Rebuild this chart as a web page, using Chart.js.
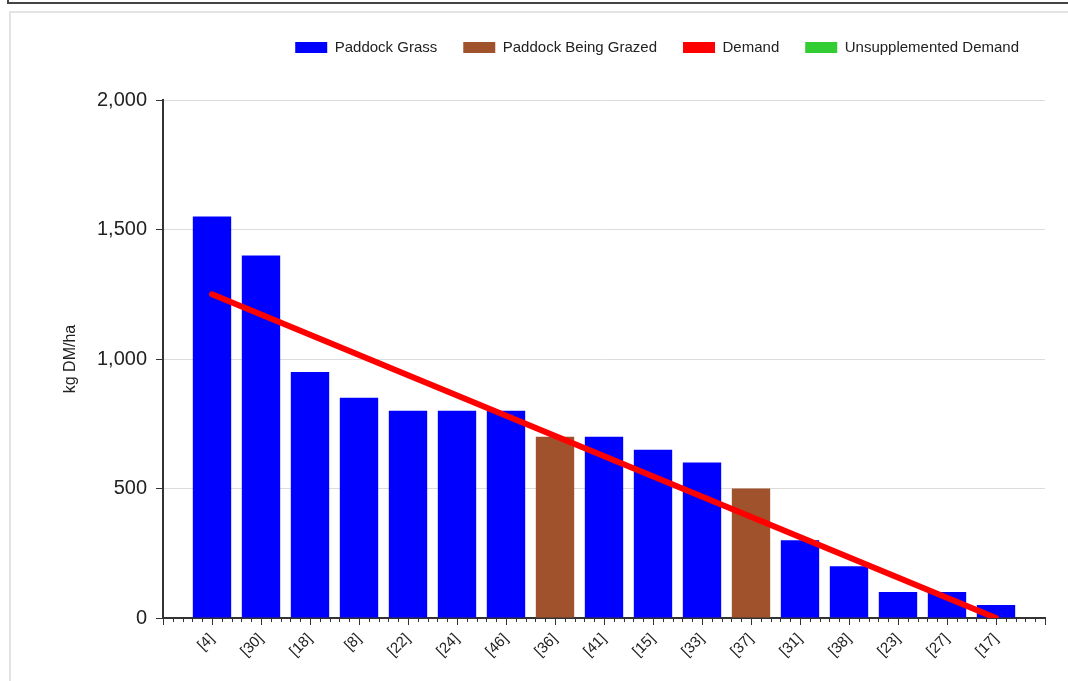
<!DOCTYPE html>
<html>
<head>
<meta charset="utf-8">
<script src="https://cdn.jsdelivr.net/npm/chart.js@4/dist/chart.umd.min.js"></script>
<style>
    body { margin: 0; background: #fff; }
    #outer { position: absolute; left: 7px; top: -9px; width: 1070px; height: 11px; border-left: 2px solid #444; border-bottom: 2px solid #444; }
    #frame { position: absolute; left: 9px; top: 11px; width: 1080px; height: 680px; border: 2px solid #e3e3e3; }
    #wrap { position: absolute; left: 0; top: 0; width: 1068px; height: 681px; }
</style>
</head>
<body>
<div id="outer"></div>
<div id="frame"></div>
<div id="wrap"><canvas id="chart"></canvas></div>
<script>
var paddocks = ['[4]', '[30]', '[18]', '[8]', '[22]', '[24]', '[46]', '[36]', '[41]', '[15]', '[33]', '[37]', '[31]', '[38]', '[23]', '[27]', '[17]'];
var grassValues = [1550, 1400, 950, 850, 800, 800, 800, null, 700, 650, 600, null, 300, 200, 100, 100, 50];
var grazedValues = [null, null, null, null, null, null, null, 700, null, null, null, 500, null, null, null, null, null];
var demandValues = [1250, null, null, null, null, null, null, null, null, null, null, null, null, null, null, null, 0];
var unsupplementedValues = [];
var yTicks = [0, 500, 1000, 1500, 2000];

var fontName = '"Liberation Sans", Arial, sans-serif';

function toPoints(values) {
    var points = [];
    values.forEach(function (v, i) {
        if (v !== null && v !== undefined) points.push({ x: i, y: v });
    });
    return points;
}

// small ticks between the category ticks on the x axis
var minorTicks = {
    id: 'minorTicks',
    afterDraw: function (chart) {
        var x = chart.scales.x;
        var ctx = chart.ctx;
        var y0 = chart.chartArea.bottom;
        ctx.save();
        ctx.strokeStyle = '#333';
        ctx.lineWidth = 1;
        for (var k = -5; k <= 85; k++) {
            if (k % 5 === 0) continue;
            var px = Math.round(x.getPixelForValue(k / 5)) + 0.5;
            ctx.beginPath();
            ctx.moveTo(px, y0);
            ctx.lineTo(px, y0 + 4);
            ctx.stroke();
        }
        ctx.restore();
    }
};

new Chart(document.getElementById('chart'), {
    data: {
        datasets: [
            {
                type: 'bar',
                label: 'Paddock Grass',
                data: toPoints(grassValues),
                backgroundColor: '#0000ff',
                grouped: false,
                order: 2
            },
            {
                type: 'bar',
                label: 'Paddock Being Grazed',
                data: toPoints(grazedValues),
                backgroundColor: '#a0522d',
                grouped: false,
                order: 2
            },
            {
                type: 'line',
                label: 'Demand',
                data: toPoints(demandValues),
                borderColor: '#ff0000',
                backgroundColor: '#ff0000',
                borderWidth: 6,
                borderCapStyle: 'round',
                pointRadius: 0,
                order: 1
            },
            {
                type: 'line',
                label: 'Unsupplemented Demand',
                data: toPoints(unsupplementedValues),
                borderColor: '#32cd32',
                backgroundColor: '#32cd32',
                borderWidth: 6,
                pointRadius: 0,
                order: 1
            }
        ]
    },
    options: {
        responsive: true,
        maintainAspectRatio: false,
        animation: false,
        categoryPercentage: 0.87,
        barPercentage: 0.9,
        layout: { padding: { left: 57, right: 23, top: 14, bottom: 0 } },
        plugins: {
            tooltip: { enabled: false },
            legend: {
                position: 'top',
                align: 'end',
                labels: {
                    boxWidth: 32,
                    boxHeight: 11,
                    padding: 26,
                    color: '#222',
                    font: { family: fontName, size: 15 },
                    sort: function (a, b) { return a.datasetIndex - b.datasetIndex; },
                    generateLabels: function (chart) {
                        return Chart.defaults.plugins.legend.labels.generateLabels(chart).map(function (item) {
                            item.lineWidth = 0;
                            return item;
                        });
                    }
                }
            },
            // empty spacer between legend and plot
            subtitle: {
                display: true,
                text: '',
                weight: 500,
                padding: { top: 0, bottom: 17 },
                font: { family: fontName, size: 15 }
            }
        },
        scales: {
            x: {
                type: 'linear',
                min: -1,
                max: 17,
                offset: false,
                afterFit: function (scale) { scale.height = 63; },
                grid: { offset: false, drawOnChartArea: false, drawTicks: true, tickLength: 7, tickColor: '#333' },
                border: { color: '#333', width: 2 },
                ticks: {
                    stepSize: 1,
                    maxTicksLimit: 100,
                    autoSkip: false,
                    minRotation: 45,
                    maxRotation: 45,
                    padding: 5,
                    color: '#222',
                    font: { family: fontName, size: 15 },
                    callback: function (v) { return paddocks[v] || ''; }
                }
            },
            y: {
                min: 0,
                max: 2000,
                afterFit: function (scale) { scale.width = 106; },
                afterBuildTicks: function (scale) {
                    scale.ticks = yTicks.map(function (v) { return { value: v }; });
                },
                grid: { color: '#dcdcdc', tickColor: '#333', tickLength: 7 },
                border: { color: '#333', width: 2 },
                ticks: {
                    padding: 9,
                    color: '#222',
                    font: { family: fontName, size: 20 },
                    callback: function (v) { return v.toLocaleString('en-US'); }
                },
                title: {
                    display: true,
                    text: 'kg DM/ha',
                    color: '#222',
                    font: { family: fontName, size: 16 }
                }
            }
        }
    },
    plugins: [minorTicks]
});
</script>
</body>
</html>
